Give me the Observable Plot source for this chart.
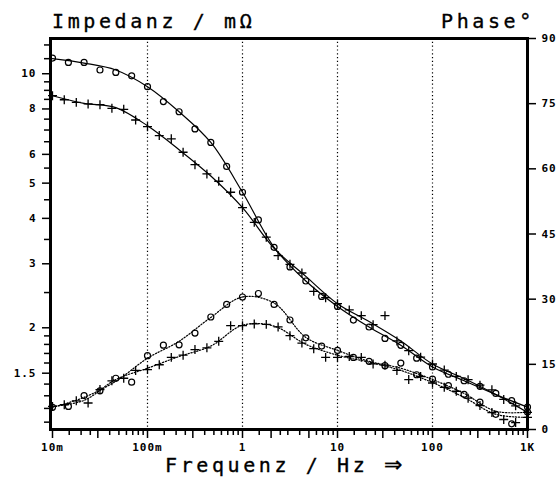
<!DOCTYPE html>
<html>
<head>
<meta charset="utf-8">
<script src="https://cdn.jsdelivr.net/npm/d3@7"></script>
<script src="https://cdn.jsdelivr.net/npm/@observablehq/plot@0.6"></script>
<style>
  html, body { margin: 0; padding: 0; background: #fff; }
  #wrap { position: relative; width: 558px; height: 477px; background: #fff; overflow: hidden; }
  #wrap svg { position: absolute; left: 0; top: 0; }
  .ttl { position: absolute; font-family: "DejaVu Sans Mono", monospace; font-size: 20px; line-height: 14px; height: 14px; letter-spacing: 3.6px; color: #000; white-space: nowrap; -webkit-text-stroke: 0.35px #000; }
  .arr { font-family: "DejaVu Sans", sans-serif; font-size: 22px; letter-spacing: 0; }
</style>
</head>
<body>
<div id="wrap">
  <div class="ttl" id="t1" style="left:52px; top:14px;">Impedanz / mΩ</div>
  <div class="ttl" id="t2" style="left:441px; top:14px;">Phase°</div>
  <div class="ttl" id="t3" style="left:165px; top:458px;">Frequenz / Hz <span class="arr">⇒</span></div>
</div>
<script>
// ---- data ----
// circle-marked series: 6 points per decade
const circleFreq = [0.01, 0.0147, 0.0215, 0.0316, 0.0464, 0.0681, 0.1, 0.147, 0.215, 0.316, 0.464, 0.681,
  1, 1.47, 2.15, 3.16, 4.64, 6.81, 10, 14.7, 21.5, 31.6, 46.4, 68.1, 100, 147, 215, 316, 464, 681, 1000];
// cross-marked series: 8 points per decade
const crossFreq = [0.01, 0.0133, 0.0178, 0.0237, 0.0316, 0.0422, 0.0562, 0.075, 0.1, 0.133, 0.178, 0.237,
  0.316, 0.422, 0.562, 0.75, 1, 1.33, 1.78, 2.37, 3.16, 4.22, 5.62, 7.5, 10, 13.3, 17.8, 23.7, 31.6, 42.2,
  56.2, 75, 100, 133, 178, 237, 316, 422, 562, 750, 1000];
// fitted curves: 3 points per decade
const fitFreq = [0.01, 0.0215, 0.0464, 0.1, 0.215, 0.464, 1, 2.15, 4.64, 10, 21.5, 46.4, 100, 215, 464, 1000];

// impedance (mOhm)
const impCircle = [11.04, 10.74, 10.74, 10.24, 10.08, 9.87, 9.21, 8.38, 7.86, 7.05, 6.47, 5.56, 4.72, 3.96,
  3.33, 2.94, 2.69, 2.44, 2.29, 2.10, 2.01, 1.87, 1.79, 1.65, 1.56, 1.49, 1.43, 1.38, 1.32, 1.26, 1.21];
const impCross = [8.70, 8.48, 8.34, 8.26, 8.22, 8.03, 7.98, 7.46, 7.15, 6.76, 6.62, 6.08, 5.62, 5.30, 5.06,
  4.72, 4.28, 3.90, 3.55, 3.16, 2.99, 2.83, 2.52, 2.42, 2.33, 2.24, 2.16, 2.04, 2.16, 1.84, 1.73, 1.66,
  1.59, 1.53, 1.47, 1.44, 1.39, 1.35, 1.27, 1.22, 1.17];
const impCircleFit = [11.0, 10.7, 10.24, 9.21, 7.86, 6.47, 4.72, 3.33, 2.69, 2.29, 2.01, 1.79, 1.56, 1.43, 1.31, 1.21];
const impCrossFit = [8.70, 8.29, 8.07, 7.19, 6.18, 5.23, 4.28, 3.31, 2.77, 2.33, 2.08, 1.84, 1.59, 1.45, 1.31, 1.17];

// phase (degrees)
const phaseCircle = [5.1, 5.3, 7.8, 8.9, 11.8, 10.9, 17.0, 19.4, 19.5, 22.2, 25.9, 28.8, 30.5, 31.3, 28.8,
  25.2, 21.1, 19.2, 18.2, 16.6, 15.7, 14.7, 15.3, 12.6, 11.6, 10.1, 8.1, 6.3, 3.5, 1.3, 4.0];
const phaseCross = [5.3, 5.7, 6.6, 6.1, 9.2, 11.2, 11.8, 13.6, 13.8, 14.9, 16.6, 17.1, 18.4, 18.8, 20.3,
  23.9, 23.9, 24.3, 24.2, 23.6, 21.6, 19.9, 18.6, 16.6, 16.6, 16.8, 16.6, 15.1, 14.8, 13.6, 11.5, 12.2,
  10.7, 9.7, 8.8, 7.2, 5.5, 3.9, 2.3, 1.6, 2.8];
const phaseCircleFit = [5.1, 7.4, 11.1, 16.4, 20.3, 25.8, 30.5, 29.1, 21.2, 18.2, 15.7, 14.1, 11.5, 8.3, 4.2, 4.0];
const phaseCrossFit = [5.3, 6.7, 11.5, 14.1, 16.8, 19.2, 24.0, 23.8, 19.6, 17.1, 15.5, 13.6, 10.8, 7.4, 3.5, 2.8];

// axes
const xTickValues = [0.01, 0.03, 0.1, 0.3, 1, 2, 5, 10, 30, 100, 300, 1000];
const xTickLabels = ["10m", "30m", "100m", "300m", "1", "2", "5", "10", "30", "100", "300", "1K"];
const xMinorMantissa = [1.5, 2, 2.5, 3, 4, 5, 6, 7, 8, 9];
const xDecades = [0.01, 0.1, 1, 10, 100];
const gridFreq = [0.1, 1, 10, 100];
const yTickValues = [1.5, 2, 3, 4, 5, 6, 8, 10];
const yTickLabels = ["1.5", "2", "3", "4", "5", "6", "8", "10"];
const yMinorTicks = [1.1, 1.2, 1.3, 1.4, 1.6, 1.7, 1.8, 1.9, 2.5, 3.5, 4.5, 5.5, 6.5, 7, 7.5, 8.5, 9, 9.5, 11, 12];
const phaseTicks = [0, 15, 30, 45, 60, 75, 90];

// ---- tables ----
const rows = (fs, vs) => fs.map((f, i) => ({f, v: vs[i]}));
const zC = rows(circleFreq, impCircle), zX = rows(crossFreq, impCross);
const zCf = rows(fitFreq, impCircleFit), zXf = rows(fitFreq, impCrossFit);
const pC = rows(circleFreq, phaseCircle), pX = rows(crossFreq, phaseCross);
const pCf = rows(fitFreq, phaseCircleFit), pXf = rows(fitFreq, phaseCrossFit);
const xMinor = [];
for (const d of xDecades) for (const m of xMinorMantissa) {
  const t = +(d * m).toPrecision(3);
  if (!xTickValues.includes(t)) xMinor.push(t);
}

const W = 558, H = 477;
const common = {
  width: W, height: H, marginTop: 38, marginBottom: 48, marginLeft: 50, marginRight: 31,
  style: {fontFamily: "'DejaVu Sans Mono', monospace", fontSize: "11px", fontWeight: "bold", letterSpacing: "1px", background: "transparent", color: "black", overflow: "visible"}
};

const plot1 = Plot.plot({
  ...common,
  x: {type: "log", domain: [0.01, 1000], insetLeft: 2},
  y: {type: "log", domain: [1.05, 12.5]},
  marks: [
    Plot.ruleX(gridFreq, {stroke: "black", strokeWidth: 1.2, strokeDasharray: "1.2,2.6"}),
    Plot.line(zCf, {x: "f", y: "v", curve: "catmull-rom", stroke: "black", strokeWidth: 1.2}),
    Plot.line(zXf, {x: "f", y: "v", curve: "catmull-rom", stroke: "black", strokeWidth: 1.2}),
    Plot.dot(zC, {x: "f", y: "v", symbol: "circle", r: 3, stroke: "black", fill: "none", strokeWidth: 1.2}),
    Plot.dot(zX, {x: "f", y: "v", symbol: "plus", r: 3, stroke: "black", strokeWidth: 1.3}),
    Plot.axisX(xMinor, {tickSize: 6, fill: "none", label: null, strokeWidth: 1.5}),
    Plot.axisX(xTickValues, {tickSize: 9, tickPadding: 5, strokeWidth: 1.5, label: null,
      tickFormat: d => xTickLabels[xTickValues.indexOf(d)]}),
    Plot.axisY(yMinorTicks, {anchor: "left", tickSize: 6, fill: "none", label: null, strokeWidth: 1.5}),
    Plot.axisY(yTickValues, {anchor: "left", tickSize: 8, tickPadding: 6, strokeWidth: 1.5, label: null,
      tickFormat: d => yTickLabels[yTickValues.indexOf(d)]}),
    Plot.frame({stroke: "black", strokeWidth: 3})
  ]
});

const plot2 = Plot.plot({
  ...common,
  x: {type: "log", domain: [0.01, 1000], insetLeft: 2, axis: null},
  y: {domain: [0, 90]},
  marks: [
    Plot.line(pCf, {x: "f", y: "v", curve: "catmull-rom", stroke: "black", strokeWidth: 1.2, strokeDasharray: "1.3,1.7"}),
    Plot.line(pXf, {x: "f", y: "v", curve: "catmull-rom", stroke: "black", strokeWidth: 1.2, strokeDasharray: "1.3,1.7"}),
    Plot.dot(pC, {x: "f", y: "v", symbol: "circle", r: 3, stroke: "black", fill: "none", strokeWidth: 1.2}),
    Plot.dot(pX, {x: "f", y: "v", symbol: "plus", r: 3, stroke: "black", strokeWidth: 1.3}),
    Plot.axisY(phaseTicks, {anchor: "right", tickSize: 8, tickPadding: 6, strokeWidth: 1.5, label: null})
  ]
});

const wrap = document.getElementById("wrap");
wrap.appendChild(plot1);
wrap.appendChild(plot2);
</script>
</body>
</html>
